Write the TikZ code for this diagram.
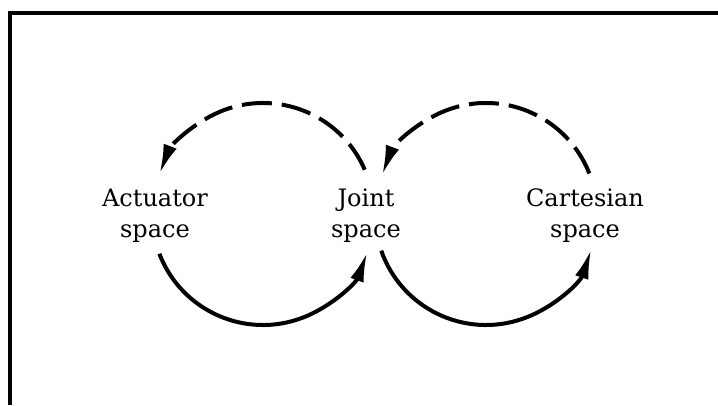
\documentclass[tikz,border=0pt]{standalone}
\usepackage{fontspec}
\setmainfont{DejaVu Serif}
\usetikzlibrary{arrows.meta}
\begin{document}
\begin{tikzpicture}[x=1pt,y=1pt,
  lbl/.style={align=center,font=\fontsize{24}{31}\selectfont,inner sep=0pt},
  tipstyle/.style={-{Latex[length=30pt,width=14pt]}},
  solidarc/.style={line width=4pt,tipstyle},
  dasharc/.style={line width=4pt,dash pattern=on 30pt off 10pt,tipstyle},
  frameline/.style={line width=4pt}]
\useasboundingbox (0,0) rectangle (718,405);
\draw[frameline] (10,0) -- (10,392) -- (718,392);
\node[lbl] (act) at (155,189) {Actuator\\space};
\node[lbl] (joint) at (366,189) {Joint\\space};
\node[lbl] (cart) at (585,189) {Cartesian\\space};
\coordinate (c1) at (263,191);
\coordinate (c2) at (486,191);
\coordinate (s1) at ([shift={(201:111)}]c1);
\coordinate (s2) at ([shift={(23.5:111)}]c1);
\coordinate (s3) at ([shift={(199.3:111)}]c2);
\coordinate (s4) at ([shift={(21.4:111)}]c2);
\draw[solidarc] (s1) arc[start angle=201, end angle=340, radius=111];
\draw[dasharc] (s2) arc[start angle=23.5, end angle=159, radius=111];
\draw[solidarc] (s3) arc[start angle=199.3, end angle=341.6, radius=111];
\draw[dasharc] (s4) arc[start angle=21.4, end angle=159.6, radius=111];
\end{tikzpicture}
\end{document}
